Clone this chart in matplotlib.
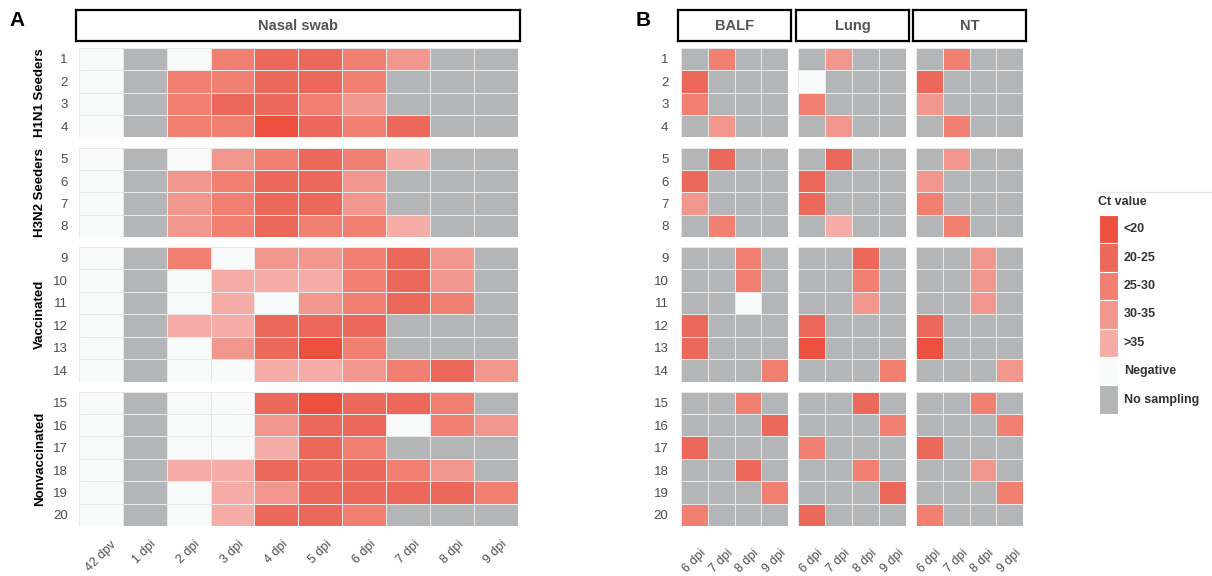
import numpy as np
import matplotlib.pyplot as plt
from matplotlib.colors import ListedColormap, BoundaryNorm
from matplotlib.patches import Rectangle

plt.rcParams['font.family'] = ['Liberation Sans', 'DejaVu Sans']

# Ct categories: 0 <20, 1 20-25, 2 25-30, 3 30-35, 4 >35, 5 negative, 6 no sampling
ct_labels = ['<20', '20-25', '25-30', '30-35', '>35', 'Negative', 'No sampling']
ct_colors = ['#EE5040', '#EC685A', '#F18073', '#F2978E', '#F6ADA8', '#F9FAFA', '#B3B5B6']

pig_ids = [str(i) for i in range(1, 21)]
group_names = ['H1N1 Seeders', 'H3N2 Seeders', 'Vaccinated', 'Nonvaccinated']
group_rows = [(0, 4), (4, 8), (8, 14), (14, 20)]

nasal_days = ['42 dpv', '1 dpi', '2 dpi', '3 dpi', '4 dpi', '5 dpi', '6 dpi', '7 dpi', '8 dpi', '9 dpi']
nasal = [
    [5, 6, 5, 2, 1, 1, 2, 3, 6, 6],
    [5, 6, 2, 2, 1, 1, 2, 6, 6, 6],
    [5, 6, 2, 1, 1, 2, 3, 6, 6, 6],
    [5, 6, 2, 2, 0, 1, 2, 1, 6, 6],
    [5, 6, 5, 3, 2, 1, 2, 4, 6, 6],
    [5, 6, 3, 2, 1, 1, 3, 6, 6, 6],
    [5, 6, 3, 2, 1, 1, 3, 6, 6, 6],
    [5, 6, 3, 2, 1, 2, 2, 4, 6, 6],
    [5, 6, 2, 5, 3, 3, 2, 1, 3, 6],
    [5, 6, 5, 4, 4, 4, 2, 1, 3, 6],
    [5, 6, 5, 4, 5, 3, 2, 1, 2, 6],
    [5, 6, 4, 4, 1, 1, 1, 6, 6, 6],
    [5, 6, 5, 3, 1, 0, 2, 6, 6, 6],
    [5, 6, 5, 5, 4, 4, 3, 2, 1, 3],
    [5, 6, 5, 5, 1, 0, 1, 1, 2, 6],
    [5, 6, 5, 5, 3, 1, 1, 5, 2, 3],
    [5, 6, 5, 5, 4, 1, 2, 6, 6, 6],
    [5, 6, 4, 4, 1, 1, 1, 2, 3, 6],
    [5, 6, 5, 4, 3, 1, 1, 1, 1, 2],
    [5, 6, 5, 4, 1, 1, 2, 6, 6, 6],
]

tissue_days = ['6 dpi', '7 dpi', '8 dpi', '9 dpi']
balf = [
    [6, 2, 6, 6], [1, 6, 6, 6], [2, 6, 6, 6], [6, 3, 6, 6],
    [6, 1, 6, 6], [1, 6, 6, 6], [3, 6, 6, 6], [6, 2, 6, 6],
    [6, 6, 2, 6], [6, 6, 2, 6], [6, 6, 5, 6], [1, 6, 6, 6],
    [1, 6, 6, 6], [6, 6, 6, 2], [6, 6, 2, 6], [6, 6, 6, 1],
    [1, 6, 6, 6], [6, 6, 1, 6], [6, 6, 6, 2], [2, 6, 6, 6],
]
lung = [
    [6, 3, 6, 6], [5, 6, 6, 6], [2, 6, 6, 6], [6, 3, 6, 6],
    [6, 1, 6, 6], [1, 6, 6, 6], [1, 6, 6, 6], [6, 4, 6, 6],
    [6, 6, 1, 6], [6, 6, 2, 6], [6, 6, 3, 6], [1, 6, 6, 6],
    [0, 6, 6, 6], [6, 6, 6, 2], [6, 6, 1, 6], [6, 6, 6, 2],
    [2, 6, 6, 6], [6, 6, 2, 6], [6, 6, 6, 1], [1, 6, 6, 6],
]
nt = [
    [6, 2, 6, 6], [1, 6, 6, 6], [3, 6, 6, 6], [6, 2, 6, 6],
    [6, 3, 6, 6], [3, 6, 6, 6], [2, 6, 6, 6], [6, 2, 6, 6],
    [6, 6, 3, 6], [6, 6, 3, 6], [6, 6, 3, 6], [1, 6, 6, 6],
    [0, 6, 6, 6], [6, 6, 6, 3], [6, 6, 2, 6], [6, 6, 6, 2],
    [1, 6, 6, 6], [6, 6, 3, 6], [6, 6, 6, 2], [2, 6, 6, 6],
]

W, H = 1212, 576
fig = plt.figure(figsize=(W / 100, H / 100), dpi=100)
cmap = ListedColormap(ct_colors)
norm = BoundaryNorm(np.arange(-0.5, 7.5, 1), cmap.N)
label_col = '#4D4D4D'


def px_axes(x0, y0, x1, y1):
    return fig.add_axes([x0 / W, 1 - y1 / H, (x1 - x0) / W, (y1 - y0) / H])


def strip(x0, x1, title):
    ax = px_axes(x0, 10, x1, 40.5)
    ax.set_xticks([]); ax.set_yticks([])
    for s in ax.spines.values():
        s.set_linewidth(1.6)
    ax.text(0.5, 0.48, title, ha='center', va='center', fontsize=10.5,
            fontweight='bold', color='#555555', transform=ax.transAxes)


# vertical extent of each group block
group_y = [(47.7, 137.3), (147.7, 237.0), (246.7, 381.7), (391.7, 526.0)]

# data, columns, left, right, row labels, y pad, x pad
panels = [
    (nasal, nasal_days, 79, 517.7, True, 8, 9),
    (balf, tissue_days, 681, 788, True, 9, 15),
    (lung, tissue_days, 798, 906, False, 0, 15),
    (nt, tissue_days, 916, 1023, False, 0, 15),
]

for data, days, x0, x1, show_rows, ypad, xpad in panels:
    arr = np.array(data)
    for gi, ((r0, r1), (y0, y1)) in enumerate(zip(group_rows, group_y)):
        ax = px_axes(x0, y0, x1, y1)
        block = arr[r0:r1]
        ax.pcolormesh(block, cmap=cmap, norm=norm, edgecolors='#E8E8E8', linewidth=0.7)
        ax.set_xlim(0, len(days))
        ax.set_ylim(r1 - r0, 0)
        for s in ax.spines.values():
            s.set_visible(False)
        ax.tick_params(length=0)
        if show_rows:
            ax.set_yticks(np.arange(r1 - r0) + 0.5)
            ax.set_yticklabels(pig_ids[r0:r1], fontsize=9.5, color=label_col)
            ax.tick_params(axis='y', pad=ypad)
        else:
            ax.set_yticks([])
        if gi == len(group_rows) - 1:
            ax.set_xticks(np.arange(len(days)) + 0.5)
            ax.set_xticklabels(days, rotation=45, ha='center', va='top',
                               fontsize=9, color=label_col)
            ax.tick_params(axis='x', pad=xpad)
        else:
            ax.set_xticks([])

# group names on the left of panel A
for name, (y0, y1) in zip(group_names, group_y):
    fig.text(40 / W, 1 - (y0 + y1) / 2 / H, name, rotation=90, ha='center', va='center',
             fontsize=9.5, fontweight='bold', color='black')

strip(76, 520, 'Nasal swab')
strip(678, 791, 'BALF')
strip(796, 909, 'Lung')
strip(913, 1026, 'NT')

fig.text(9 / W, 1 - 26 / H, 'A', fontsize=15, fontweight='bold')
fig.text(636 / W, 1 - 26 / H, 'B', fontsize=15, fontweight='bold')

# legend drawn by hand in pixel units
leg = px_axes(1090, 185, 1212, 420)
leg.set_xlim(1090, 1212)
leg.set_ylim(420, 185)
leg.axis('off')
leg.plot([1097, 1212], [192, 192], color='#E5E5E5', lw=1)
leg.text(1098, 202, 'Ct value', fontsize=9, fontweight='bold', color='#333333', va='center')
key_h = 28.4
for i, (lab, col) in enumerate(zip(ct_labels, ct_colors)):
    top = 215 + i * key_h
    leg.add_patch(Rectangle((1099, top), 18.5, key_h, facecolor=col, edgecolor='white', lw=0.8))
    leg.text(1124, top + key_h / 2, lab, fontsize=9, fontweight='bold', color='#333333', va='center')

fig.savefig('out.png', dpi=100)
